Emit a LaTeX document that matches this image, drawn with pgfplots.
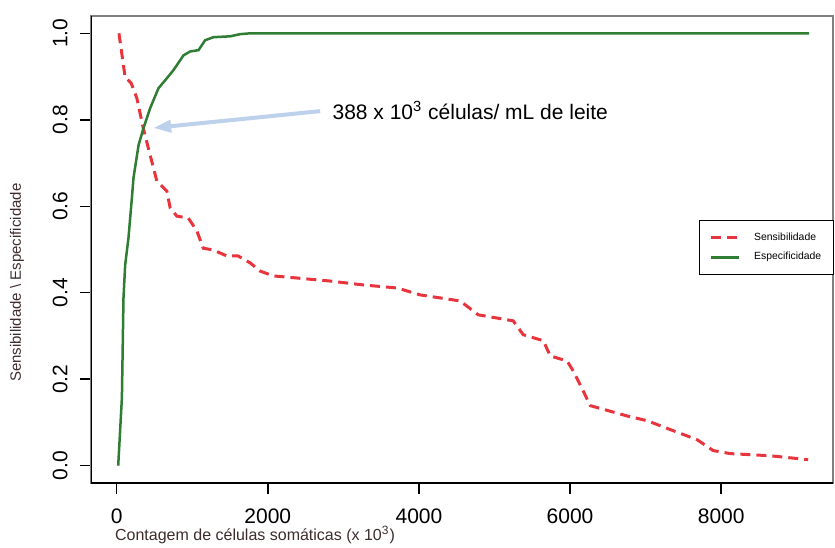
\documentclass[border=0pt]{standalone}
\usepackage{pgfplots}
\pgfplotsset{compat=1.18}
\usepackage{pgfplotstable}
\usepackage{fontspec}
\setmainfont{Liberation Sans}
\usetikzlibrary{arrows.meta}

\definecolor{sensred}{HTML}{E8343C}
\definecolor{espgreen}{HTML}{2E7D32}
\definecolor{arrowblue}{HTML}{BDD1EC}
\definecolor{labelcol}{HTML}{3E2C2C}

% Sensibilidade
\pgfplotstableread{
x y
30 1.000
112 0.898
191 0.885
267 0.850
351 0.781
443 0.718
532 0.658
664 0.635
708 0.596
797 0.577
946 0.573
1061 0.543
1145 0.503
1277 0.499
1458 0.485
1608 0.485
1767 0.469
1899 0.450
2071 0.439
2389 0.434
2826 0.427
3263 0.418
3712 0.411
4017 0.395
4546 0.381
4784 0.349
5247 0.335
5380 0.303
5647 0.289
5737 0.254
5962 0.242
6042 0.219
6174 0.173
6266 0.139
6756 0.115
7021 0.104
7365 0.081
7683 0.060
7894 0.035
8119 0.028
8648 0.023
9151 0.014
}\sens

% Especificidade
\pgfplotstableread{
x y
20 0.000
69 0.157
90 0.388
112 0.464
156 0.527
201 0.619
222 0.665
289 0.741
355 0.781
443 0.827
553 0.873
664 0.896
752 0.915
884 0.949
973 0.958
1083 0.961
1171 0.984
1281 0.991
1502 0.993
1634 0.998
1767 1.000
9165 1.000
}\espec

\begin{document}
\begin{tikzpicture}
\begin{axis}[
    width=371pt, height=233.5pt,
    scale only axis,
    xmin=-340, xmax=9480,
    ymin=-0.04, ymax=1.04,
    xtick={0,2000,4000,6000,8000},
    ytick={0,0.2,0.4,0.6,0.8,1.0},
    axis line style={draw=gray, line width=0.75pt},
    tick style={black, line width=0.75pt},
    tick align=outside,
    major tick length=5.5pt,
    xtick pos=bottom, ytick pos=left,
    /pgf/number format/assume math mode=true,
    /pgf/number format/1000 sep={},
    ticklabel style={font=\fontsize{10.5}{12}\selectfont},
    yticklabel style={rotate=90, anchor=south, inner sep=0pt, yshift=6pt,
        /pgf/number format/.cd, fixed, fixed zerofill, precision=1},
    xticklabel style={anchor=center, inner sep=0pt, yshift=-11pt},
    xlabel={Contagem de células somáticas (x 10\textsuperscript{3})},
    xlabel style={at={(rel axis cs:0.032,-0.111)}, anchor=west,
        font=\fontsize{8}{10}\selectfont, text=labelcol, inner sep=0pt},
    ylabel={Sensibilidade \textbackslash\ Especificidade},
    ylabel style={at={(rel axis cs:-0.0997,0.429)}, anchor=center,
        font=\fontsize{7.5}{9}\selectfont, text=labelcol, inner sep=0pt},
    legend style={at={(0.819,0.563)}, anchor=north west, draw=black,
        line width=0.5pt, font=\fontsize{5.2}{6}\selectfont,
        inner xsep=5pt, inner ysep=5pt, row sep=2.5pt,
        nodes={inner sep=1pt},
        /tikz/every odd column/.append style={column sep=6pt}},
    legend cell align=left,
    legend image code/.code={\draw[#1] (0pt,0pt) -- (14pt,0pt);},
]
\addplot[sensred, line width=1.5pt, dash pattern=on 5pt off 3pt] table {\sens};
\addlegendentry{Sensibilidade}
\addplot[espgreen, line width=1.25pt] table {\espec};
\addlegendentry{Especificidade}

\draw[black, line width=0.75pt] (rel axis cs:0,1) -- (rel axis cs:0,0) -- (rel axis cs:1,0);
\draw[arrowblue, line width=2pt, -{Triangle[length=9pt,width=6pt]}]
    (axis cs:2693,0.820) -- (axis cs:483,0.781);
\node[anchor=west, inner sep=0pt, font=\fontsize{10.5}{12}\selectfont]
    at (axis cs:2852,0.822) {388 x 10\textsuperscript{3} células/ mL de leite};
\coordinate (bl) at (rel axis cs:0,0);
\end{axis}
\pgfresetboundingbox
\path (bl) ++(-45.5pt,-32pt) rectangle ++(417.5pt,273.5pt);
\end{tikzpicture}
\end{document}
